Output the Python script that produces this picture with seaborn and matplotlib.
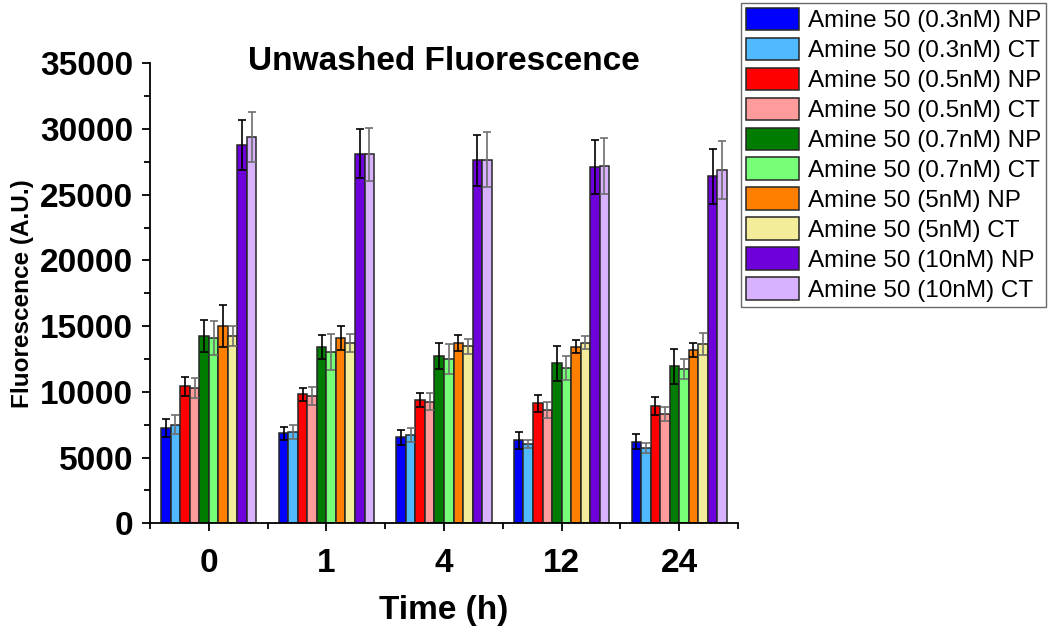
import matplotlib
matplotlib.use("Agg")
import matplotlib.pyplot as plt
import seaborn as sns
import pandas as pd
import numpy as np

times = ["0", "1", "4", "12", "24"]
series = [
    "Amine 50 (0.3nM) NP", "Amine 50 (0.3nM) CT",
    "Amine 50 (0.5nM) NP", "Amine 50 (0.5nM) CT",
    "Amine 50 (0.7nM) NP", "Amine 50 (0.7nM) CT",
    "Amine 50 (5nM) NP", "Amine 50 (5nM) CT",
    "Amine 50 (10nM) NP", "Amine 50 (10nM) CT",
]
colors = ["#0000FF", "#50B9FF", "#FF0000", "#FF9B9B", "#007D00",
          "#78FF78", "#FF8000", "#F2EC9B", "#6E00DC", "#D9B2FF"]

v_03np = [7280, 6850, 6550, 6320, 6215]
v_03ct = [7510, 6950, 6700, 6040, 5760]
v_05np = [10430, 9820, 9365, 9135, 8930]
v_05ct = [10325, 9690, 9260, 8625, 8320]
v_07np = [14260, 13400, 12740, 12180, 11955]
v_07ct = [14085, 13020, 12485, 11850, 11725]
v_5np = [15000, 14085, 13705, 13450, 13170]
v_5ct = [14240, 13750, 13475, 13750, 13650]
v_10np = [28780, 28120, 27610, 27130, 26390]
v_10ct = [29360, 28065, 27660, 27180, 26875]

e_03np = [685, 510, 585, 635, 585]
e_03ct = [710, 530, 530, 330, 380]
e_05np = [710, 510, 530, 660, 685]
e_05ct = [760, 660, 635, 635, 560]
e_07np = [1190, 915, 965, 1345, 1345]
e_07ct = [1295, 1370, 1140, 915, 760]
e_5np = [1600, 915, 585, 480, 535]
e_5ct = [735, 685, 585, 510, 815]
e_10np = [1875, 1880, 1930, 2055, 2080]
e_10ct = [1900, 2000, 2080, 2160, 2180]

values = [v_03np, v_03ct, v_05np, v_05ct, v_07np, v_07ct, v_5np, v_5ct, v_10np, v_10ct]
errors = [e_03np, e_03ct, e_05np, e_05ct, e_07np, e_07ct, e_5np, e_5ct, e_10np, e_10ct]

rows = []
for s, vals in zip(series, values):
    for t, v in zip(times, vals):
        rows.append({"Time": t, "Series": s, "Value": v})
df = pd.DataFrame(rows)

sns.set_theme(style="ticks")
plt.rcParams["font.family"] = ["Liberation Sans", "DejaVu Sans"]
plt.rcParams["text.color"] = "black"
plt.rcParams["axes.labelcolor"] = "black"
plt.rcParams["xtick.color"] = "black"
plt.rcParams["ytick.color"] = "black"

fig = plt.figure(figsize=(10.51, 6.32), dpi=100)
ax = fig.add_axes([150 / 1051, 1 - 523.3 / 632, 588 / 1051, 460 / 632])

sns.barplot(data=df, x="Time", y="Value", hue="Series", order=times,
            hue_order=series, palette=colors, width=0.81, errorbar=None,
            edgecolor="#262626", linewidth=1.1, legend=False, ax=ax,
            saturation=1)

bar_conts = list(ax.containers)
for i, cont in enumerate(bar_conts):
    xs = [p.get_x() + p.get_width() / 2 for p in cont.patches]
    hs = [p.get_height() for p in cont.patches]
    ecol = "#000000" if i % 2 == 0 else "#6E6E6E"
    ax.errorbar(xs, hs, yerr=errors[i], fmt="none", ecolor=ecol,
                elinewidth=1.2, capsize=3.2, capthick=1.2, zorder=5)

ax.set_ylim(0, 35000)
ax.set_xlim(-0.5, 4.5)
ax.set_yticks(np.arange(0, 35001, 5000))
ax.set_yticks(np.arange(2500, 35000, 5000), minor=True)
ax.set_xticks(np.arange(-0.5, 4.6, 1.0), minor=True)

for sp in ["top", "right"]:
    ax.spines[sp].set_visible(False)
for sp in ["left", "bottom"]:
    ax.spines[sp].set_linewidth(1.3)
    ax.spines[sp].set_color("black")

ax.tick_params(axis="both", which="major", direction="out", length=6,
               width=1.3, color="black", labelsize=24, labelcolor="black")
ax.tick_params(axis="both", which="minor", direction="out", length=4,
               width=1.3, color="black")
ax.tick_params(axis="y", which="major", pad=6)
ax.tick_params(axis="x", which="major", pad=12)
for lab in ax.get_xticklabels() + ax.get_yticklabels():
    lab.set_fontweight("bold")

ax.set_xlabel("Time (h)", fontsize=24, fontweight="bold", color="black")
ax.set_ylabel("Fluorescence (A.U.)", fontsize=17.5, fontweight="bold",
              color="black")
ax.xaxis.set_label_coords(0.5, -0.155)
ax.yaxis.set_label_coords(-0.198, 0.5)

ax.text(0.5, 0.985, "Unwashed Fluorescence", transform=ax.transAxes,
        ha="center", va="baseline", fontsize=24, fontweight="bold",
        color="black")

leg = fig.legend(handles=bar_conts, labels=series,
                 loc="upper left", bbox_to_anchor=(741 / 1051, 1 - 3 / 632),
                 bbox_transform=fig.transFigure, fontsize=17.5,
                 frameon=True, fancybox=False, borderaxespad=0,
                 borderpad=0.2, handlelength=2.2, handleheight=1.05,
                 handletextpad=0.35, labelspacing=0.22)
leg.get_frame().set_edgecolor("#444444")
leg.get_frame().set_linewidth(1.0)
for t in leg.get_texts():
    t.set_color("black")

fig.savefig("out.png", dpi=100)
